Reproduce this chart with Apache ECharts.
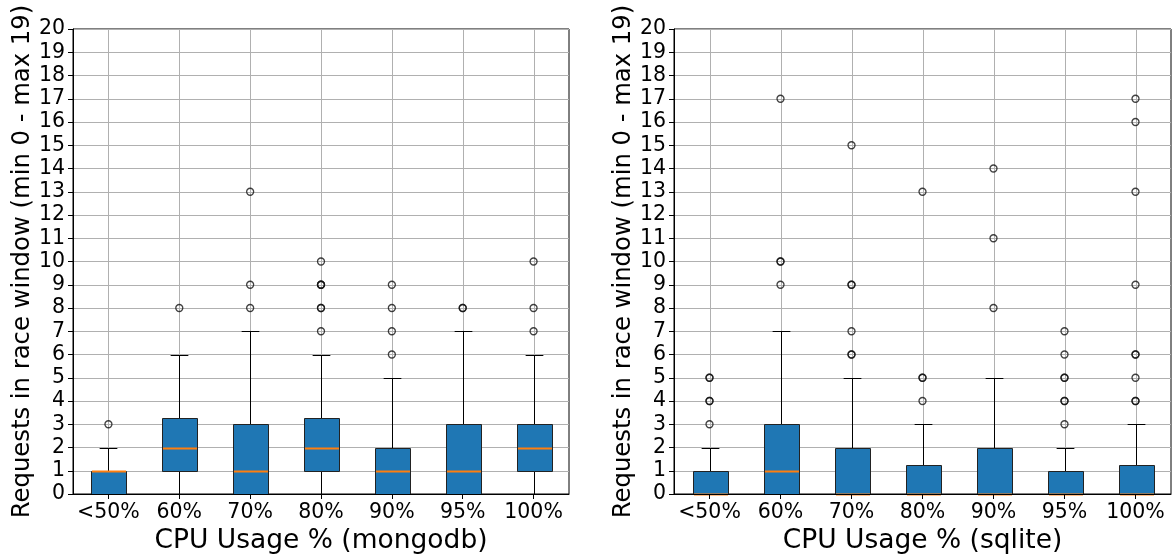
<!DOCTYPE html>
<html>
<head>
<meta charset="utf-8">
<script src="https://cdn.jsdelivr.net/npm/echarts@6/dist/echarts.min.js"></script>
<style>
  html, body { margin: 0; padding: 0; background: #fff; }
  #chart { width: 1174px; height: 554px; }
</style>
</head>
<body>
<div id="chart"></div>
<script>
// CPU usage buckets shared by both panels
const categories = ['<50%', '60%', '70%', '80%', '90%', '95%', '100%'];
const yTicks = [0, 20, 1]; // min, max, step

// mongodb: box statistics per bucket
const mongoMin    = [0, 0, 0, 0, 0, 0, 0];
const mongoQ1     = [0, 1, 0, 1, 0, 0, 1];
const mongoMedian = [1, 2, 1, 2, 1, 1, 2];
const mongoQ3     = [1, 3.25, 3, 3.25, 2, 3, 3];
const mongoMax    = [2, 6, 7, 6, 5, 7, 6];
const mongoOutliers = [
  [3],
  [8],
  [8, 9, 13],
  [7, 8, 8, 9, 9, 9, 10],
  [6, 7, 8, 9],
  [8, 8],
  [7, 8, 10]
];

// sqlite: box statistics per bucket
const sqliteMin    = [0, 0, 0, 0, 0, 0, 0];
const sqliteQ1     = [0, 0, 0, 0, 0, 0, 0];
const sqliteMedian = [0, 1, 0, 0, 0, 0, 0];
const sqliteQ3     = [1, 3, 2, 1.25, 2, 1, 1.25];
const sqliteMax    = [2, 7, 5, 3, 5, 2, 3];
const sqliteOutliers = [
  [3, 4, 4, 5, 5],
  [9, 10, 10, 17],
  [6, 6, 7, 9, 9, 15],
  [4, 5, 5, 13],
  [8, 11, 14],
  [3, 4, 4, 5, 5, 6, 7],
  [4, 4, 5, 6, 6, 9, 13, 16, 17]
];

const FONT = 'DejaVu Sans';
const BOX_COLOR = '#1f77b4';
const MEDIAN_COLOR = '#ff7f0e';
const GRID_COLOR = '#b0b0b0';

function boxRows(mn, q1, md, q3, mx) {
  return categories.map((c, i) => [i, mn[i], q1[i], md[i], q3[i], mx[i]]);
}
function outlierRows(list) {
  const rows = [];
  list.forEach((vals, i) => vals.forEach(v => rows.push([i, v])));
  return rows;
}

const crisp = v => Math.round(v) + 0.5;

// box, whiskers, caps and median drawn on the axis scales
function renderBox(params, api) {
  const x = api.value(0);
  const pMin = api.coord([x, api.value(1)]);
  const pQ1 = api.coord([x, api.value(2)]);
  const pMed = api.coord([x, api.value(3)]);
  const pQ3 = api.coord([x, api.value(4)]);
  const pMax = api.coord([x, api.value(5)]);
  const band = api.size([1, 0])[0];
  const boxW = band * 0.5;
  const capW = boxW * 0.5;
  const cx = crisp(pQ1[0]);
  const lineStyle = { stroke: '#000', lineWidth: 1, fill: null };
  const seg = (x1, y1, x2, y2, style) => ({
    type: 'line',
    shape: { x1: x1, y1: y1, x2: x2, y2: y2 },
    style: style
  });
  const left = Math.round(cx - boxW / 2) + 0.5;
  const right = Math.round(cx + boxW / 2) + 0.5;
  const top = crisp(pQ3[1]);
  const bottom = crisp(pQ1[1]);
  return {
    type: 'group',
    children: [
      seg(cx, crisp(pQ1[1]), cx, crisp(pMin[1]), lineStyle),
      seg(cx, crisp(pQ3[1]), cx, crisp(pMax[1]), lineStyle),
      seg(cx - capW / 2, crisp(pMin[1]), cx + capW / 2, crisp(pMin[1]), lineStyle),
      seg(cx - capW / 2, crisp(pMax[1]), cx + capW / 2, crisp(pMax[1]), lineStyle),
      {
        type: 'rect',
        shape: { x: left, y: top, width: right - left, height: bottom - top },
        style: { fill: BOX_COLOR, stroke: '#222', lineWidth: 1 }
      },
      seg(left + 0.5, crisp(pMed[1]), right - 0.5, crisp(pMed[1]),
        { stroke: MEDIAN_COLOR, lineWidth: 2, fill: null })
    ]
  };
}

// vertical grid lines through each category centre
function renderVGrid(params, api) {
  const x = api.value(0);
  const pTop = api.coord([x, yTicks[1]]);
  const pBottom = api.coord([x, yTicks[0]]);
  const cx = crisp(pTop[0]);
  return {
    type: 'line',
    shape: { x1: cx, y1: pTop[1], x2: cx, y2: pBottom[1] },
    style: { stroke: GRID_COLOR, lineWidth: 1, fill: null }
  };
}

const gridBase = {
  top: 29, bottom: 60, show: true, borderColor: '#000', borderWidth: 1,
  backgroundColor: 'transparent', containLabel: false, outerBoundsMode: 'none'
};
const grids = [
  Object.assign({ left: 73, right: 605 }, gridBase),
  Object.assign({ left: 674, right: 3 }, gridBase)
];

const labelStyle = { color: '#000', fontFamily: FONT, fontSize: 20.5 };

function xAxisFor(gridIndex, name) {
  return {
    type: 'category', gridIndex: gridIndex, data: categories, z: 3,
    name: name, nameLocation: 'middle', nameGap: 32,
    nameTextStyle: { color: '#000', fontFamily: FONT, fontSize: 26.5 },
    axisLine: { show: true, lineStyle: { color: '#000', width: 1 } },
    axisTick: { show: true, alignWithLabel: true, length: 5, lineStyle: { color: '#000' } },
    axisLabel: Object.assign({ margin: 8, interval: 0 }, labelStyle),
    splitLine: { show: false }
  };
}
function yAxisFor(gridIndex) {
  return {
    type: 'value', gridIndex: gridIndex, min: yTicks[0], max: yTicks[1], interval: yTicks[2],
    name: 'Requests in race window (min 0 - max 19)', nameLocation: 'middle', nameGap: 38,
    nameRotate: 90, nameTextStyle: { color: '#000', fontFamily: FONT, fontSize: 24.3 },
    axisLine: { show: true, onZero: false, lineStyle: { color: '#000', width: 1 } },
    axisTick: { show: true, length: 5, lineStyle: { color: '#000' } },
    axisLabel: Object.assign({ margin: 8 }, labelStyle),
    splitLine: { show: true, lineStyle: { color: GRID_COLOR, width: 1 } }
  };
}

function gridSeries(axisIndex) {
  return {
    type: 'custom', xAxisIndex: axisIndex, yAxisIndex: axisIndex, z: 1, silent: true,
    data: categories.map((c, i) => [i]),
    encode: { x: 0 },
    renderItem: renderVGrid
  };
}
function boxSeries(axisIndex, rows) {
  return {
    type: 'custom', xAxisIndex: axisIndex, yAxisIndex: axisIndex, z: 2,
    data: rows,
    encode: { x: 0, y: [1, 2, 3, 4, 5] },
    renderItem: renderBox, clip: false
  };
}
function outlierSeries(axisIndex, rows) {
  return {
    type: 'scatter', xAxisIndex: axisIndex, yAxisIndex: axisIndex, z: 2,
    data: rows,
    symbol: 'circle', symbolSize: 7,
    itemStyle: { color: 'rgba(255,255,255,0)', borderColor: '#111', borderWidth: 1.3 }
  };
}

const option = {
  animation: false,
  backgroundColor: '#fff',
  grid: grids,
  xAxis: [
    xAxisFor(0, 'CPU Usage % (mongodb)'),
    xAxisFor(1, 'CPU Usage % (sqlite)')
  ],
  yAxis: [yAxisFor(0), yAxisFor(1)],
  series: [
    gridSeries(0),
    gridSeries(1),
    boxSeries(0, boxRows(mongoMin, mongoQ1, mongoMedian, mongoQ3, mongoMax)),
    boxSeries(1, boxRows(sqliteMin, sqliteQ1, sqliteMedian, sqliteQ3, sqliteMax)),
    outlierSeries(0, outlierRows(mongoOutliers)),
    outlierSeries(1, outlierRows(sqliteOutliers))
  ]
};

const chart = echarts.init(document.getElementById('chart'), null, { renderer: 'canvas' });
chart.setOption(option);
</script>
</body>
</html>
